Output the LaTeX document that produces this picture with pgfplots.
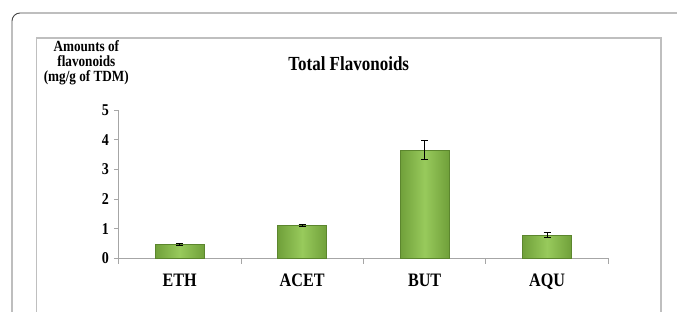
\documentclass[border=0pt]{standalone}
\usepackage{pgfplots}
\pgfplotsset{compat=1.18}
\usepackage{fontspec}
\setmainfont{Liberation Serif}[FakeStretch=0.85]
\definecolor{bargreen}{RGB}{152,202,92}
\definecolor{bardark}{RGB}{112,160,58}
\definecolor{baredge}{RGB}{92,134,46}
\definecolor{axisgray}{RGB}{166,166,166}
\definecolor{framegray}{RGB}{191,191,191}
\definecolor{outergray}{RGB}{70,70,70}
\pgfplotsset{greenbar/.style={ybar, bar width=0.40, draw=baredge, line width=0.6pt,
  left color=bardark, right color=bardark, middle color=bargreen,
  error bars/.cd, y dir=both, y explicit,
  error bar style={black, line width=0.8pt, shade=false},
  error mark options={rotate=90, mark size=3.5pt, black, line width=0.8pt, shade=false}}}
\begin{document}
\begin{tikzpicture}[x=1pt,y=1pt]
\begin{axis}[
  scale only axis, width=489.8pt, height=148.3pt,
  xmin=-0.5, xmax=3.5, ymin=0, ymax=5,
  axis x line=bottom, axis y line=left,
  axis line style={axisgray, line width=0.9pt, -},
  xtick={0,1,2,3}, xticklabels={ETH,ACET,BUT,AQU},
  major x tick style={draw=none},
  minor xtick={-0.5,0.5,1.5,2.5,3.5},
  minor x tick style={axisgray, line width=0.9pt},
  minor tick length=5.5pt,
  ytick={0,1,2,3,4,5}, yticklabels={0,1,2,3,4,5},
  major y tick style={axisgray, line width=0.9pt},
  major tick length=4.5pt,
  tick align=outside,
  xticklabel style={font=\fontsize{19}{21}\selectfont\bfseries, anchor=base, inner sep=0pt, yshift=-24pt},
  yticklabel style={font=\fontsize{16.5}{18}\selectfont\bfseries, anchor=east, inner sep=0pt, xshift=-5pt},
  clip=false,
]
\addplot[greenbar] coordinates {(0,0.47) +- (0,0.02)};
\addplot[greenbar] coordinates {(1,1.12) +- (0,0.03)};
\addplot[greenbar] coordinates {(2,3.65) +- (0,0.33)};
\addplot[greenbar] coordinates {(3,0.78) +- (0,0.09)};
\coordinate (O) at (rel axis cs:0,0);
\end{axis}
\begin{scope}[shift={(O)}]
\pgfresetboundingbox
\useasboundingbox (-118.5,258.3) rectangle (558.5,-52.7);
\clip (-118.5,258.3) rectangle (558.5,-52.7);
\draw[outergray, line width=0.9pt, rounded corners=8pt] (12-118.5,258.3-13) rectangle (720-118.5,258.3-360);
\draw[framegray, line width=1.2pt] (36.7-118.5,258.3-38) rectangle (661-118.5,258.3-360);
\node[anchor=base, inner sep=0pt, font=\fontsize{20}{22}\selectfont\bfseries] at (348.7-118.5,258.3-71) {Total Flavonoids};
\node[anchor=north, align=center, inner sep=0pt, font=\fontsize{15.5}{15}\selectfont\bfseries] at (86.3-118.5,258.3-40.7) {Amounts of\\flavonoids\\(mg/g of TDM)};
\end{scope}
\end{tikzpicture}
\end{document}
